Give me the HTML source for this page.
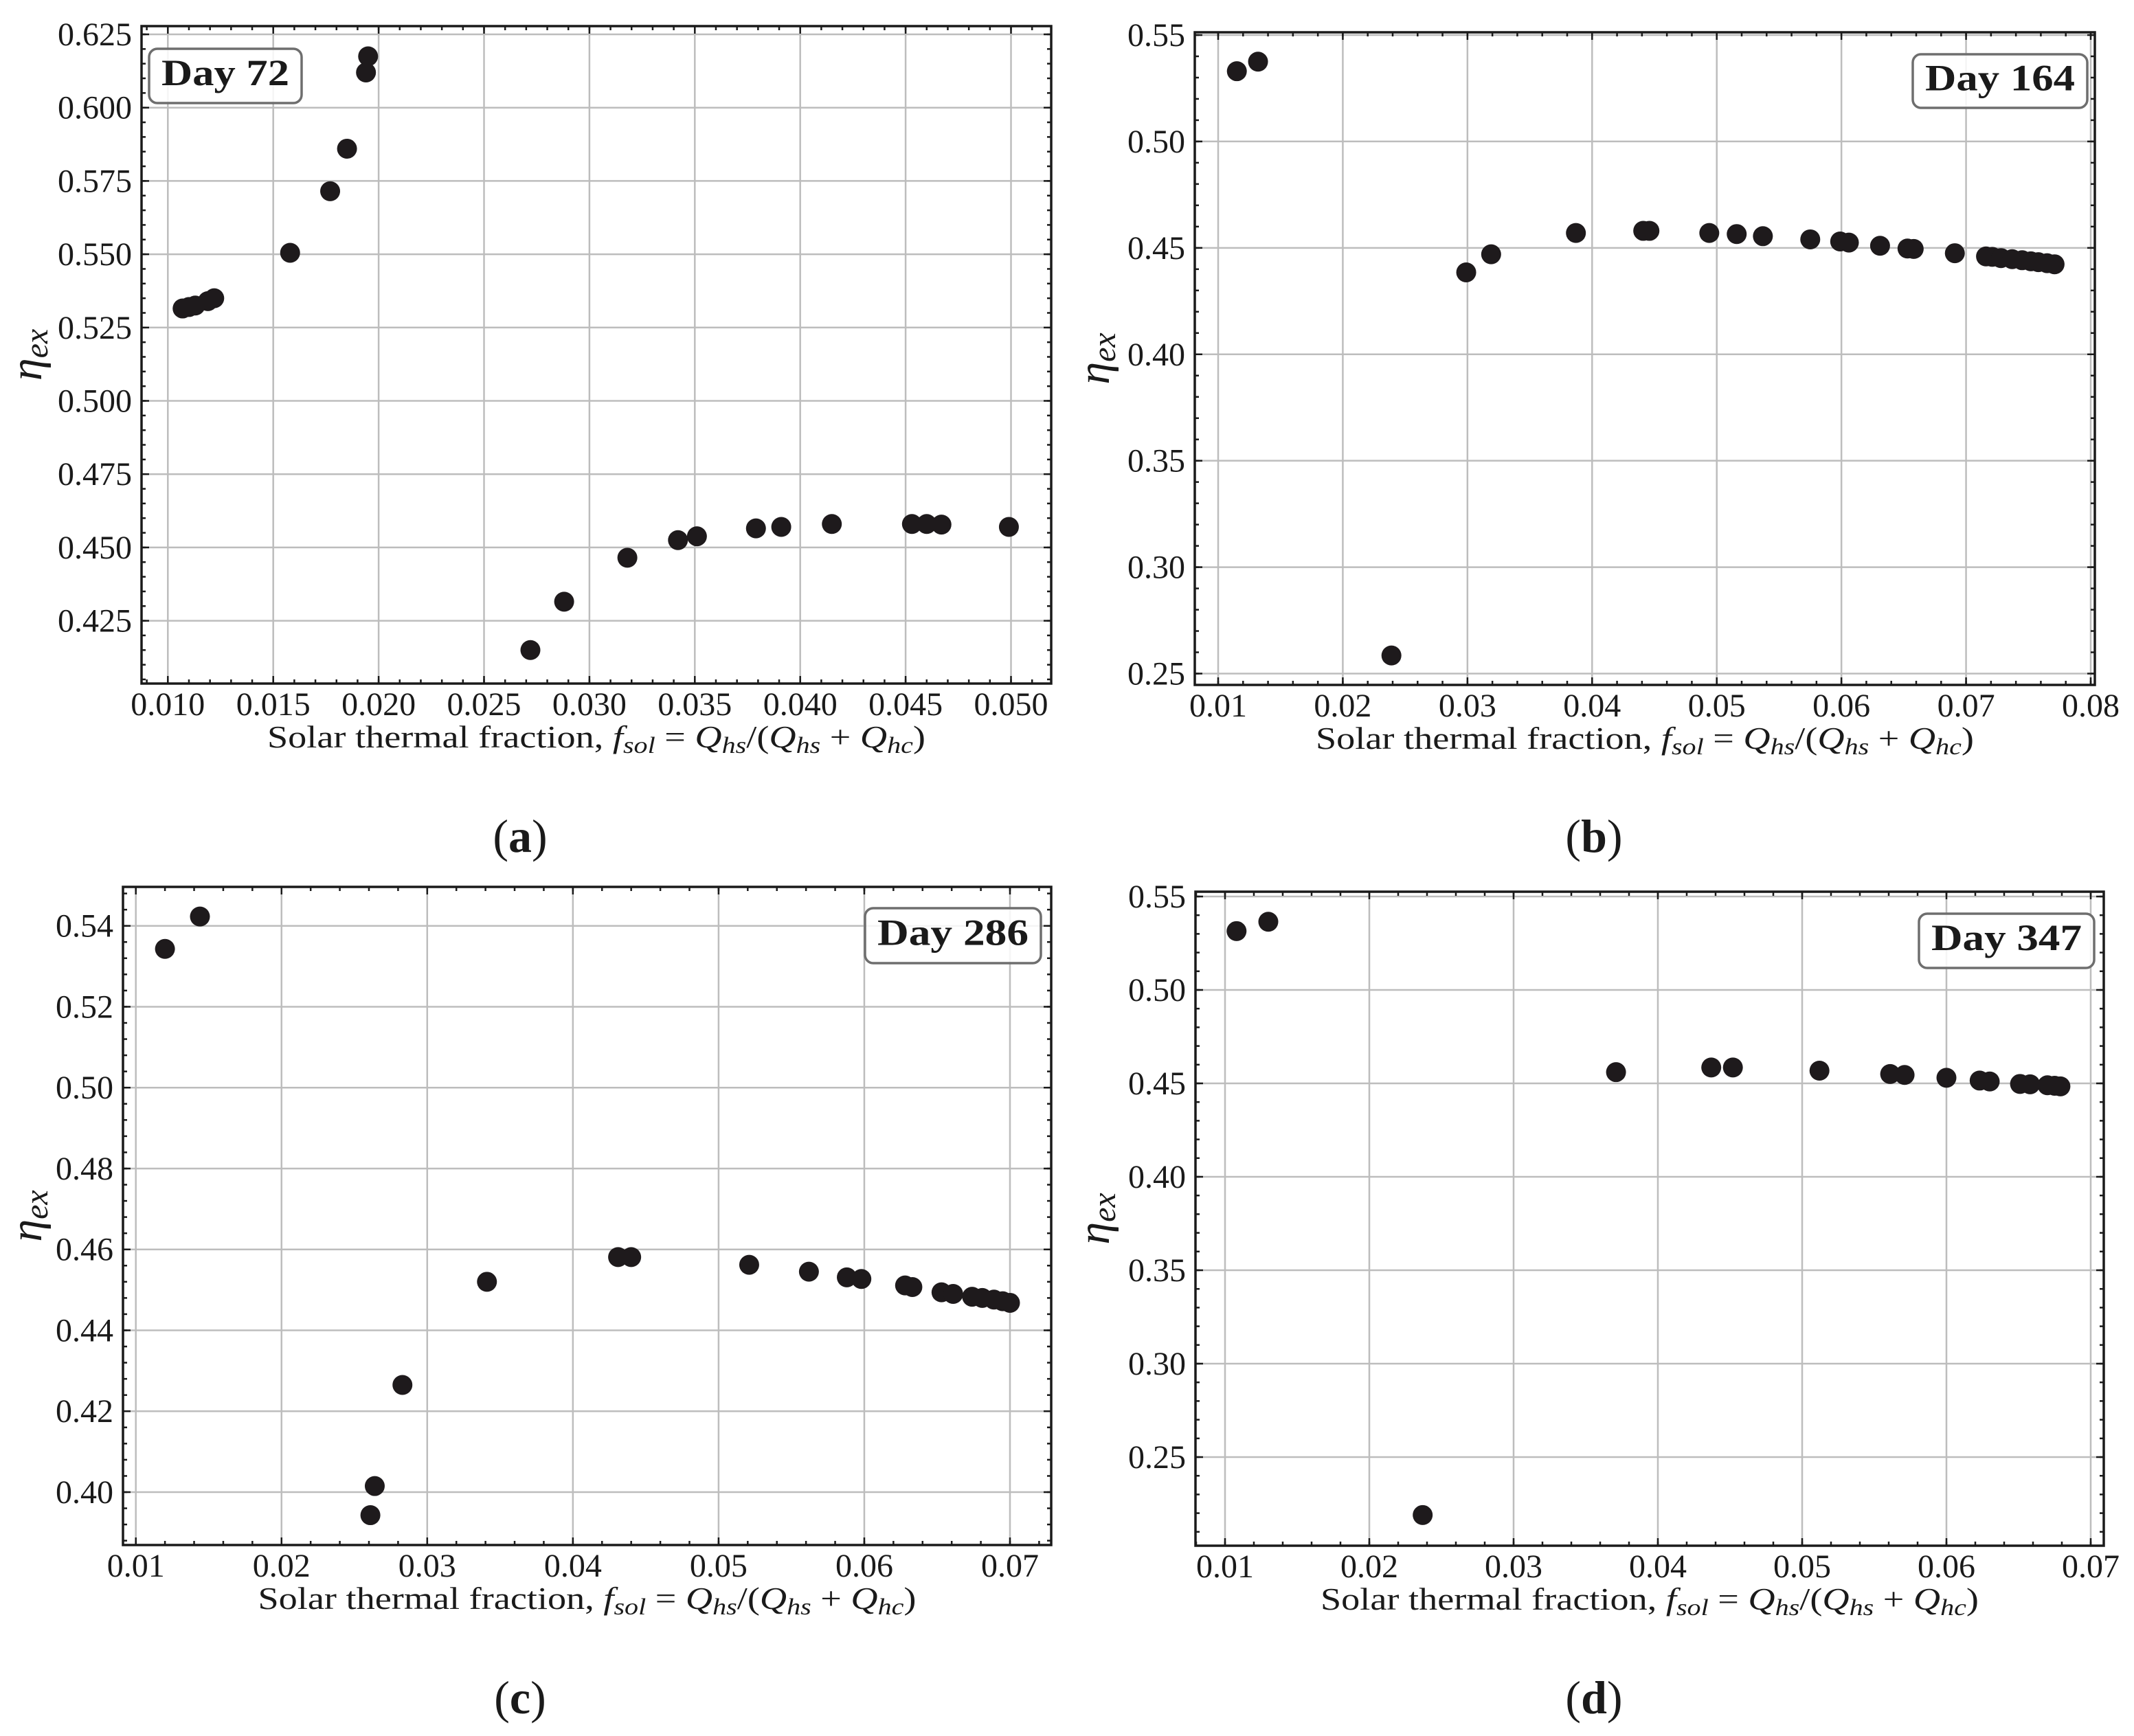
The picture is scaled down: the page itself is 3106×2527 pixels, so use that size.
<!DOCTYPE html>
<html><head><meta charset="utf-8"><style>
html,body{margin:0;padding:0;background:#fff;}
svg{display:block;font-family:"Liberation Serif",serif;}
</style></head><body>
<svg id="fig" width="3106" height="2527" viewBox="0 0 3106 2527" xmlns="http://www.w3.org/2000/svg"></svg>
<script>
// ---- Panel (a) Day 72 data ----
const xA = [0.0107,0.0110,0.0113,0.0119,0.0122,0.0158,0.0177,0.0185,0.0194,0.0195,0.0272,0.0288,0.0318,0.0342,0.0351,0.0379,0.0391,0.0415,0.0453,0.0460,0.0467,0.0499];
const yA = [0.5315,0.532,0.5325,0.534,0.535,0.5505,0.5715,0.586,0.612,0.6175,0.415,0.4315,0.4465,0.4525,0.4538,0.4565,0.457,0.458,0.458,0.458,0.4578,0.457];
const xTicksA = [0.010,0.015,0.020,0.025,0.030,0.035,0.040,0.045,0.050];
const xTickLabelsA = ["0.010","0.015","0.020","0.025","0.030","0.035","0.040","0.045","0.050"];
const yTicksA = [0.425,0.450,0.475,0.500,0.525,0.550,0.575,0.600,0.625];
const yTickLabelsA = ["0.425","0.450","0.475","0.500","0.525","0.550","0.575","0.600","0.625"];
// ---- Panel (b) Day 164 data ----
const xB = [0.0115,0.0132,0.0239,0.0299,0.0319,0.0387,0.0441,0.0446,0.0494,0.0516,0.0537,0.0575,0.0599,0.0606,0.0631,0.0653,0.0658,0.0691,0.0716,0.0721,0.0728,0.0737,0.0745,0.0752,0.0758,0.0765,0.0771];
const yB = [0.533,0.5375,0.2585,0.4385,0.447,0.457,0.458,0.458,0.457,0.4565,0.4555,0.454,0.453,0.4525,0.451,0.4497,0.4495,0.4475,0.446,0.4458,0.4452,0.4447,0.4442,0.4437,0.4433,0.4428,0.4423];
const xTicksB = [0.01,0.02,0.03,0.04,0.05,0.06,0.07,0.08];
const xTickLabelsB = ["0.01","0.02","0.03","0.04","0.05","0.06","0.07","0.08"];
const yTicksB = [0.25,0.30,0.35,0.40,0.45,0.50,0.55];
const yTickLabelsB = ["0.25","0.30","0.35","0.40","0.45","0.50","0.55"];
// ---- Panel (c) Day 286 data ----
const xC = [0.0120,0.0144,0.0261,0.0264,0.0283,0.0341,0.0431,0.0440,0.0521,0.0562,0.0588,0.0598,0.0628,0.0633,0.0653,0.0661,0.0674,0.0681,0.0689,0.0695,0.0700];
const yC = [0.5343,0.5423,0.3943,0.4015,0.4265,0.452,0.4581,0.4581,0.4562,0.4545,0.4531,0.4527,0.4511,0.4507,0.4494,0.449,0.4483,0.448,0.4476,0.4472,0.4468];
const xTicksC = [0.01,0.02,0.03,0.04,0.05,0.06,0.07];
const xTickLabelsC = ["0.01","0.02","0.03","0.04","0.05","0.06","0.07"];
const yTicksC = [0.40,0.42,0.44,0.46,0.48,0.50,0.52,0.54];
const yTickLabelsC = ["0.40","0.42","0.44","0.46","0.48","0.50","0.52","0.54"];
// ---- Panel (d) Day 347 data ----
const xD = [0.0108,0.0130,0.0237,0.0371,0.0437,0.0452,0.0512,0.0561,0.0571,0.0600,0.0623,0.0630,0.0651,0.0658,0.0670,0.0675,0.0679];
const yD = [0.5315,0.5365,0.219,0.456,0.4585,0.4585,0.4568,0.455,0.4545,0.453,0.4515,0.451,0.4497,0.4495,0.449,0.4487,0.4484];
const xTicksD = [0.01,0.02,0.03,0.04,0.05,0.06,0.07];
const xTickLabelsD = ["0.01","0.02","0.03","0.04","0.05","0.06","0.07"];
const yTicksD = [0.25,0.30,0.35,0.40,0.45,0.50,0.55];
const yTickLabelsD = ["0.25","0.30","0.35","0.40","0.45","0.50","0.55"];

const NS = "http://www.w3.org/2000/svg";
const svg = document.getElementById("fig");
function mk(tag, attrs, parent){
  const e = document.createElementNS(NS, tag);
  for (const k in attrs) e.setAttribute(k, attrs[k]);
  (parent||svg).appendChild(e);
  return e;
}

const panels = [
  {id:"a", day:"Day 72", xs:xA, ys:yA, xt:xTicksA, xl:xTickLabelsA, yt:yTicksA, yl:yTickLabelsA,
   box:[206,38,1530,995], xr:[0.010,244.3,0.050,1471.5], yr:[0.625,50,0.425,903.6], xminor:0.001, yminor:0.005,
   tag:[217,71,439,150], cap:"a", capX:757, capY:1240, ylx:60},
  {id:"b", day:"Day 164", xs:xB, ys:yB, xt:xTicksB, xl:xTickLabelsB, yt:yTicksB, yl:yTickLabelsB,
   box:[1739,47,3049,997], xr:[0.01,1773,0.08,3043], yr:[0.55,51,0.25,980.5], xminor:0.002, yminor:0.01,
   tag:[2784,79,3038,157], cap:"b", capX:2320, capY:1240, ylx:1614},
  {id:"c", day:"Day 286", xs:xC, ys:yC, xt:xTicksC, xl:xTickLabelsC, yt:yTicksC, yl:yTickLabelsC,
   box:[179,1291,1530,2249], xr:[0.01,197.7,0.07,1470], yr:[0.54,1347.7,0.40,2172], xminor:0.002, yminor:0.004,
   tag:[1259,1322,1515,1402], cap:"c", capX:757, capY:2494, ylx:60},
  {id:"d", day:"Day 347", xs:xD, ys:yD, xt:xTicksD, xl:xTickLabelsD, yt:yTicksD, yl:yTickLabelsD,
   box:[1740,1298,3062,2250], xr:[0.01,1783,0.07,3043], yr:[0.55,1305,0.25,2121], xminor:0.002, yminor:0.01,
   tag:[2793,1330,3048,1409], cap:"d", capX:2320, capY:2494, ylx:1614}
];

panels.forEach(p => {
  const [L,T,R,B] = p.box;
  const kx = (p.xr[3]-p.xr[1])/(p.xr[2]-p.xr[0]);
  const ky = (p.yr[3]-p.yr[1])/(p.yr[2]-p.yr[0]);
  const sx = v => p.xr[1] + (v - p.xr[0]) * kx;
  const sy = v => p.yr[1] + (v - p.yr[0]) * ky;
  const g = mk("g", {});
  
  

  const grid = mk("g", {stroke:"#bdbdbd","stroke-width":2.5}, g);
  
  
  p.xt.forEach(v => { const x=sx(v); mk("line",{x1:x,x2:x,y1:T,y2:B},grid); });
  p.yt.forEach(v => { const y=sy(v); mk("line",{x1:L,x2:R,y1:y,y2:y},grid); });

  const tk = mk("g", {stroke:"#1a1a1a","stroke-width":2.5}, g);
  
  
  const xmin = p.xr[0] + (L - p.xr[1])/kx;
  const xmax = p.xr[0] + (R - p.xr[1])/kx;
  for (let k=Math.ceil(xmin/p.xminor-1e-6); k*p.xminor<=xmax+1e-9; k++){
    const x = sx(k*p.xminor);
    mk("line",{x1:x,x2:x,y1:B,y2:B-6},tk); mk("line",{x1:x,x2:x,y1:T,y2:T+6},tk);
  }
  const yv1 = p.yr[0] + (T - p.yr[1])/ky;
  const yv2 = p.yr[0] + (B - p.yr[1])/ky;
  for (let k=Math.ceil(yv2/p.yminor-1e-6); k*p.yminor<=yv1+1e-9; k++){
    const y = sy(k*p.yminor);
    mk("line",{x1:L,x2:L+6,y1:y,y2:y},tk); mk("line",{x1:R,x2:R-6,y1:y,y2:y},tk);
  }
  p.xt.forEach((v,i) => {
    const x=sx(v);
    mk("line",{x1:x,x2:x,y1:B,y2:B-11},tk); mk("line",{x1:x,x2:x,y1:T,y2:T+11},tk);
    const t = mk("text",{x:x,y:B+46,"text-anchor":"middle","font-size":48,fill:"#1a1a1a"},g);
    t.textContent = p.xl[i];
    
    
  });
  p.yt.forEach((v,i) => {
    const y=sy(v);
    mk("line",{x1:L,x2:L+11,y1:y,y2:y},tk); mk("line",{x1:R,x2:R-11,y1:y,y2:y},tk);
    const t = mk("text",{x:L-14,y:y+16,"text-anchor":"end","font-size":48,fill:"#1a1a1a"},g);
    t.textContent = p.yl[i];
    
    
  });

  const fr = mk("rect",{x:L,y:T,width:R-L,height:B-T,fill:"none",stroke:"#1a1a1a","stroke-width":3.5},g);
  
  

  const pts = mk("g",{fill:"#1e1a1c"},g);
  
  
  p.xs.forEach((v,i) => {
    const c = mk("circle",{cx:sx(v),cy:sy(p.ys[i]),r:14.5},pts);
    
    
  });

  const [bx1,by1,bx2,by2] = p.tag;
  const tg = mk("g",{},g);
  
  
  mk("rect",{x:bx1,y:by1,width:bx2-bx1,height:by2-by1,rx:12,fill:"#ffffff","fill-opacity":0.85,stroke:"#6e6e6e","stroke-width":3.5},tg);
  const dt = mk("text",{x:(bx1+bx2)/2,y:by1+(by2-by1)*0.67,"text-anchor":"middle","font-size":54,"font-weight":"bold",fill:"#1a1a1a",textLength:(bx2-bx1)-36,lengthAdjust:"spacingAndGlyphs"},tg);
  dt.textContent = p.day;

  const cx = (L+R)/2;
  const xl = mk("text",{x:cx,y:B+93,"text-anchor":"middle","font-size":46,fill:"#1a1a1a",textLength:958,lengthAdjust:"spacingAndGlyphs"},g);
  
  
  xl.innerHTML = 'Solar thermal fraction, <tspan font-style="italic">f</tspan><tspan font-style="italic" font-size="34" dy="8">sol</tspan><tspan dy="-8"> = </tspan><tspan font-style="italic">Q</tspan><tspan font-style="italic" font-size="34" dy="8">hs</tspan><tspan dy="-8">/(</tspan><tspan font-style="italic">Q</tspan><tspan font-style="italic" font-size="34" dy="8">hs</tspan><tspan dy="-8"> + </tspan><tspan font-style="italic">Q</tspan><tspan font-style="italic" font-size="34" dy="8">hc</tspan><tspan dy="-8">)</tspan>';

  const ly = (T+B)/2;
  const yl = mk("text",{x:0,y:0,"text-anchor":"middle","font-size":66,"font-style":"italic",fill:"#1a1a1a",transform:`translate(${p.ylx},${ly}) rotate(-90)`},g);
  
  
  yl.innerHTML = 'η<tspan font-size="48" dy="9">ex</tspan>';

  const cp = mk("text",{x:p.capX,y:p.capY,"text-anchor":"middle","font-size":68,fill:"#1a1a1a"},g);
  
  
  cp.innerHTML = '(<tspan font-weight="bold">' + p.cap + '</tspan>)';
});
</script>
</body></html>
